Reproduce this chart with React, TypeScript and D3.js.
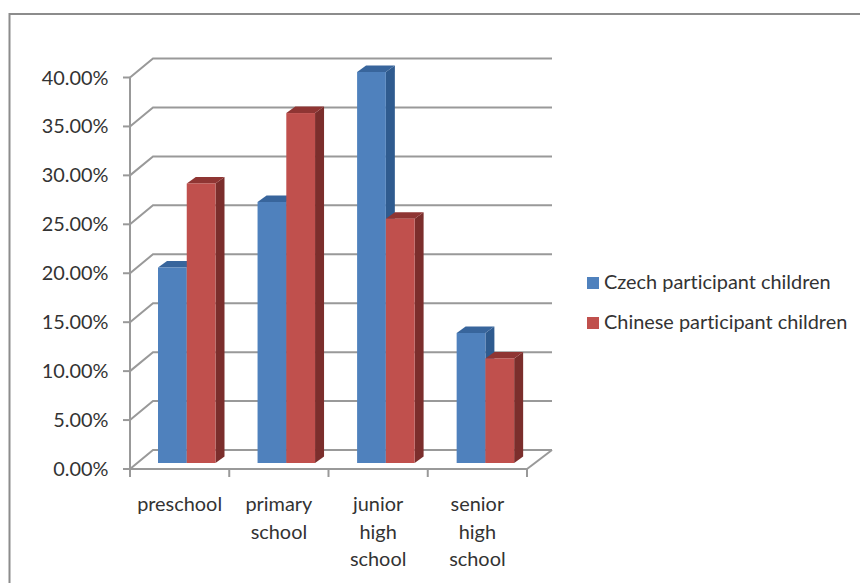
import React from "react";
import * as d3 from "d3";

const categories = [["preschool"], ["primary", "school"], ["junior", "high", "school"], ["senior", "high", "school"]];
const czechValues = [20.0, 26.7, 40.0, 13.3];
const chineseValues = [28.6, 35.8, 25.0, 10.7];
const yTicks = [0, 5, 10, 15, 20, 25, 30, 35, 40];
const seriesNames = ["Czech participant children", "Chinese participant children"];

const palette = [
  { front: "#4f81bd", top: "#38659c", side: "#2f5b8f" },
  { front: "#c0504d", top: "#8f3533", side: "#7b2e2c" },
];

const FONT = "Lato, sans-serif";
const FONT_SIZE = 19.9;
const TEXT = "#333333";
const GRID = "#999999";

// Plot geometry: front face of the box and the depth of the back wall
const plotLeft = 130;
const plotRight = 527;
const wallDx = 23;
const wallDy = -19;
const barDx = 9;
const barDy = -6.5;
const barBase = 463;

const yAxis = d3.scaleLinear().domain([0, 40]).range([469, 77.5]);
const barHeight = d3.scaleLinear().domain([0, 40]).range([0, 391]);
const xGroups = d3.scaleBand<number>().domain(d3.range(categories.length)).range([plotLeft, plotRight]);
const xSeries = d3.scaleBand<number>().domain([0, 1]).range([0, 57.5]);

const textStyle = { fontVariantLigatures: "none" } as React.CSSProperties;

function Bar({ x, w, value, colors }: { x: number; w: number; value: number; colors: typeof palette[0] }) {
  const top = barBase - barHeight(value);
  const pts = (p: number[][]) => p.map((q) => q.join(",")).join(" ");
  return (
    <g>
      <polygon fill={colors.side} points={pts([[x + w, top], [x + w + barDx, top + barDy], [x + w + barDx, barBase + barDy], [x + w, barBase]])} />
      <polygon fill={colors.top} points={pts([[x, top], [x + barDx, top + barDy], [x + w + barDx, top + barDy], [x + w, top]])} />
      <rect x={x} y={top} width={w} height={barBase - top} fill={colors.front} />
    </g>
  );
}

export default function App() {
  return (
    <svg width={860} height={583} style={{ position: "absolute", left: 0, top: 0, background: "#fff" }}>
      {/* outer chart frame, open at the right and bottom */}
      <path d="M9.5,583 V14 H860" fill="none" stroke="#8c8c8c" strokeWidth={2} />

      {/* back wall gridlines with their slanted side-wall segments */}
      {yTicks.map((t) => (
        <path
          key={t}
          d={`M${plotLeft},${yAxis(t)} L${plotLeft + wallDx},${yAxis(t) + wallDy} H${plotRight + wallDx + 2}`}
          fill="none"
          stroke={GRID}
          strokeWidth={2}
        />
      ))}

      {/* floor edges */}
      <path d={`M${plotRight},${yAxis(0)} L${plotRight + wallDx + 2},${yAxis(0) + wallDy}`} fill="none" stroke={GRID} strokeWidth={2} />

      {/* value axis */}
      <line x1={plotLeft} x2={plotLeft} y1={yAxis(40)} y2={yAxis(0) + 8} stroke={GRID} strokeWidth={2} />
      <line x1={plotLeft} x2={plotRight} y1={yAxis(0)} y2={yAxis(0)} stroke={GRID} strokeWidth={2} />
      {yTicks.map((t) => (
        <g key={t}>
          <line x1={plotLeft - 7} x2={plotLeft} y1={yAxis(t)} y2={yAxis(t)} stroke={GRID} strokeWidth={2} />
          <text x={108.5} y={yAxis(t) + 7} textAnchor="end" fontFamily={FONT} fontSize={FONT_SIZE} fill={TEXT} style={textStyle}>
            {d3.format(".2f")(t)}%
          </text>
        </g>
      ))}

      {/* category tick marks */}
      {d3.range(1, categories.length + 1).map((i) => {
        const x = plotLeft + i * xGroups.step();
        return <line key={i} x1={x} x2={x} y1={yAxis(0)} y2={yAxis(0) + 8} stroke={GRID} strokeWidth={2} />;
      })}

      {/* paired 3D columns */}
      {categories.map((_, i) => {
        const gx = (xGroups(i) as number) + 28 + i * 0.3;
        return (
          <g key={i}>
            <Bar x={gx + (xSeries(0) as number)} w={xSeries.bandwidth()} value={czechValues[i]} colors={palette[0]} />
            <Bar x={gx + (xSeries(1) as number)} w={xSeries.bandwidth()} value={chineseValues[i]} colors={palette[1]} />
          </g>
        );
      })}

      {/* category labels */}
      {categories.map((lines, i) => (
        <text key={i} textAnchor="middle" fontFamily={FONT} fontSize={FONT_SIZE} fill={TEXT} style={textStyle}>
          {lines.map((s, j) => (
            <tspan key={j} x={(xGroups(i) as number) + xGroups.bandwidth() / 2} y={511 + j * 27.5}>
              {s}
            </tspan>
          ))}
        </text>
      ))}

      {/* legend */}
      {seriesNames.map((name, i) => (
        <g key={name}>
          <rect x={587} y={277 + i * 40} width={12} height={12} fill={palette[i].front} />
          <text x={604} y={289 + i * 39.5} fontFamily={FONT} fontSize={FONT_SIZE} fill={TEXT} style={textStyle}>
            {name}
          </text>
        </g>
      ))}
    </svg>
  );
}
